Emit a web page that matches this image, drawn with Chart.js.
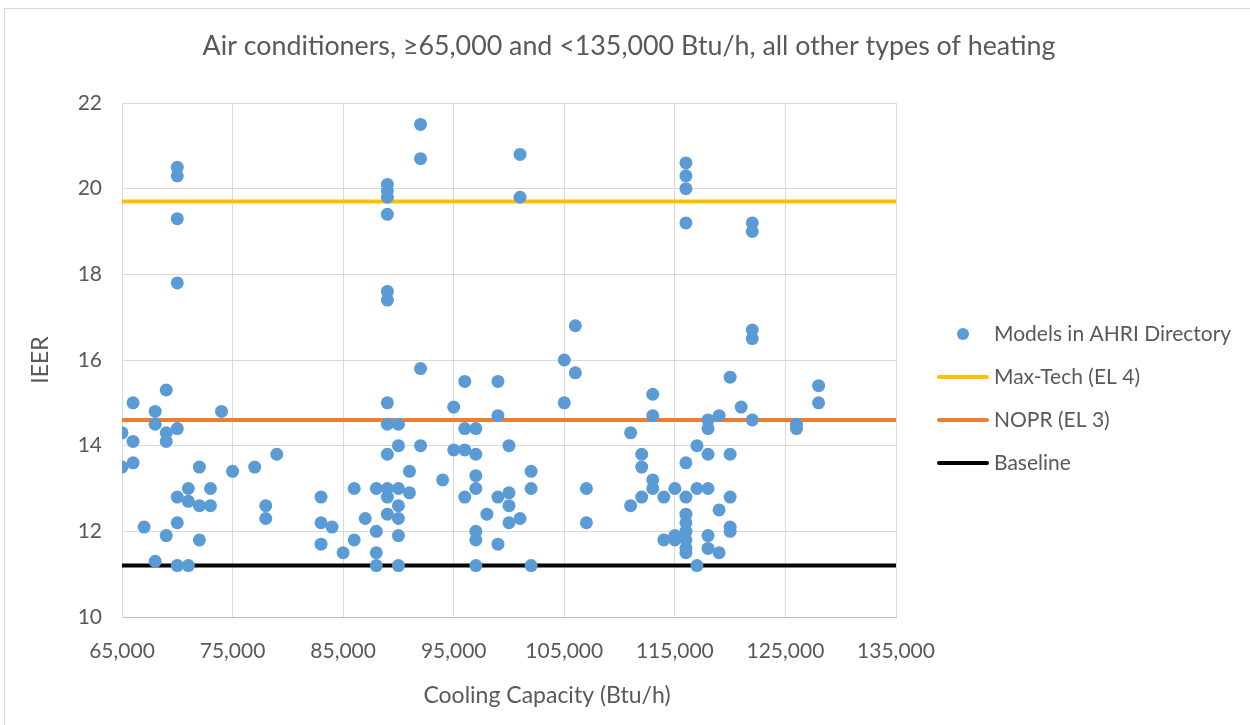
<!DOCTYPE html>
<html><head><meta charset="utf-8">
<script src="https://cdn.jsdelivr.net/npm/chart.js@4/dist/chart.umd.min.js"></script>
<style>html,body{margin:0;padding:0;background:#fff}#wrap{width:1250px;height:725px;position:relative}</style>
</head><body><div id="wrap"><canvas id="c" width="1250" height="725"></canvas></div>
<script>
// Models in AHRI Directory: cooling capacity (Btu/h) and IEER
const capacity = [
 65000,65000,
 66000,66000,66000,
 67000,
 68000,68000,68000,
 69000,69000,69000,69000,
 70000,70000,70000,70000,70000,70000,70000,70000,
 71000,71000,71000,
 72000,72000,72000,
 73000,73000,
 74000,75000,77000,
 78000,78000,
 79000,
 83000,83000,83000,
 84000,85000,
 86000,86000,
 87000,
 88000,88000,88000,88000,
 89000,89000,89000,89000,89000,89000,89000,89000,89000,89000,89000,89000,
 90000,90000,90000,90000,90000,90000,90000,
 91000,91000,
 92000,92000,92000,92000,
 94000,
 95000,95000,
 96000,96000,96000,96000,
 97000,97000,97000,97000,97000,97000,97000,
 98000,
 99000,99000,99000,99000,
 100000,100000,100000,100000,
 101000,101000,101000,
 102000,102000,102000,
 105000,105000,
 106000,106000,
 107000,107000,
 111000,111000,
 112000,112000,112000,
 113000,113000,113000,113000,
 114000,114000,
 115000,115000,115000,
 116000,116000,116000,116000,116000,116000,116000,116000,116000,116000,116000,116000,
 117000,117000,117000,
 118000,118000,118000,118000,118000,118000,
 119000,119000,119000,
 120000,120000,120000,120000,120000,
 121000,
 122000,122000,122000,122000,122000,
 126000,126000,
 128000,128000
];
const ieer = [
 14.3,13.5,
 15.0,14.1,13.6,
 12.1,
 14.8,14.5,11.3,
 15.3,14.3,14.1,11.9,
 20.5,20.3,19.3,17.8,14.4,12.8,12.2,11.2,
 13.0,12.7,11.2,
 13.5,12.6,11.8,
 13.0,12.6,
 14.8,13.4,13.5,
 12.6,12.3,
 13.8,
 12.8,12.2,11.7,
 12.1,11.5,
 13.0,11.8,
 12.3,
 13.0,12.0,11.5,11.2,
 20.1,19.95,19.8,19.4,17.6,17.4,15.0,14.5,13.8,13.0,12.8,12.4,
 14.5,14.0,13.0,12.6,12.3,11.9,11.2,
 13.4,12.9,
 21.5,20.7,15.8,14.0,
 13.2,
 14.9,13.9,
 15.5,14.4,13.9,12.8,
 14.4,13.8,13.3,13.0,12.0,11.8,11.2,
 12.4,
 15.5,14.7,12.8,11.7,
 14.0,12.9,12.6,12.2,
 20.8,19.8,12.3,
 13.4,13.0,11.2,
 16.0,15.0,
 16.8,15.7,
 13.0,12.2,
 14.3,12.6,
 13.8,13.5,12.8,
 15.2,14.7,13.2,13.0,
 12.8,11.8,
 13.0,11.9,11.8,
 20.6,20.3,20.0,19.2,13.6,12.8,12.4,12.2,12.0,11.8,11.6,11.5,
 14.0,13.0,11.2,
 14.6,14.4,13.8,13.0,11.9,11.6,
 14.7,12.5,11.5,
 15.6,13.8,12.8,12.1,12.0,
 14.9,
 19.2,19.0,16.7,16.5,14.6,
 14.5,14.4,
 15.4,15.0
];
// Efficiency levels (IEER), drawn across the capacity range
const lineRange = [65000, 135000];
const maxTech = 19.7;
const nopr = 14.6;
const baseline = 11.2;
// Axis ticks
const xTicks = [65000,75000,85000,95000,105000,115000,125000,135000];
const yTicks = [10,12,14,16,18,20,22];
const chartTitle = 'Air conditioners, \u226565,000 and <135,000 Btu/h, all other types of heating';
const xTitle = 'Cooling Capacity (Btu/h)';
const yTitle = 'IEER';

const FONT = 'Lato, "Open Sans", sans-serif';
const TXT = '#595959';

const points = capacity.map((x,i)=>({x:x, y:ieer[i]}));
const hline = v => lineRange.map(x=>({x:x, y:v}));

const textPlugin = {
  id:'texts',
  afterDraw(chart){
    const ctx = chart.ctx;
    const ds = chart.data.datasets;
    ctx.save();
    // chart title
    ctx.fillStyle = TXT;
    ctx.textAlign = 'center';
    ctx.textBaseline = 'middle';
    ctx.font = '26.8px ' + FONT;
    ctx.fillText(chartTitle, 629, 46);
    // x axis title
    ctx.font = '23px ' + FONT;
    ctx.fillText(xTitle, 547, 696);
    // legend
    const x0 = 937, x1 = 989, tx = 994;
    const ys = [334, 377, 420, 463];
    ctx.font = '21px ' + FONT;
    ds.forEach((d,i)=>{
      const y = ys[i];
      if (d.showLine === false) {
        ctx.beginPath();
        ctx.fillStyle = d.backgroundColor;
        ctx.arc((x0+x1)/2, y, 6, 0, Math.PI*2);
        ctx.fill();
      } else {
        ctx.beginPath();
        ctx.strokeStyle = d.borderColor;
        ctx.lineWidth = 4;
        ctx.lineCap = 'round';
        ctx.moveTo(x0+2, y); ctx.lineTo(x1-2, y);
        ctx.stroke();
      }
      ctx.fillStyle = TXT;
      ctx.textAlign = 'left';
      ctx.fillText(d.label, tx, y);
    });
    ctx.restore();
  }
};
const framePlugin = {
  id:'frame',
  beforeDraw(chart){
    const ctx = chart.ctx;
    ctx.save();
    ctx.fillStyle = '#fff';
    ctx.fillRect(0,0,chart.width,chart.height);
    ctx.strokeStyle = '#d9d9d9';
    ctx.lineWidth = 1;
    ctx.strokeRect(4.5, 8.5, chart.width, chart.height);
    ctx.restore();
  }
};

new Chart(document.getElementById('c'), {
  type:'scatter',
  data:{
    datasets:[
      {label:'Models in AHRI Directory', data:points, showLine:false,
       backgroundColor:'#5b9bd5', borderColor:'#5b9bd5', pointRadius:6.5, pointHoverRadius:6.5, borderWidth:0},
      {label:'Max-Tech (EL 4)', data:hline(maxTech), showLine:true, borderColor:'#ffc000', backgroundColor:'#ffc000', borderWidth:4, pointRadius:0},
      {label:'NOPR (EL 3)', data:hline(nopr), showLine:true, borderColor:'#ed7d31', backgroundColor:'#ed7d31', borderWidth:4, pointRadius:0},
      {label:'Baseline', data:hline(baseline), showLine:true, borderColor:'#000000', backgroundColor:'#000000', borderWidth:4, pointRadius:0}
    ]
  },
  options:{
    responsive:false, animation:false,
    layout:{padding:{left:10, right:354, top:103, bottom:10}},
    plugins:{ legend:{display:false}, tooltip:{enabled:false}, title:{display:false} },
    scales:{
      x:{type:'linear', min:lineRange[0], max:lineRange[1],
        afterBuildTicks(s){ s.ticks = xTicks.map(v=>({value:v})); },
        afterFit(s){ s.height = 98; },
        grid:{color:'#d9d9d9', lineWidth:1, drawTicks:false},
        border:{color:'#bfbfbf', width:1},
        ticks:{color:TXT, font:{family:FONT, size:21}, padding:22, maxRotation:0,
          callback:v=>v.toLocaleString('en-US')},
        title:{display:false}
      },
      y:{type:'linear', min:yTicks[0], max:yTicks[yTicks.length-1],
        afterBuildTicks(s){ s.ticks = yTicks.map(v=>({value:v})); },
        afterFit(s){ s.width = 112; },
        grid:{color:'#d9d9d9', lineWidth:1, drawTicks:false},
        border:{color:'#d9d9d9', width:1},
        ticks:{color:TXT, font:{family:FONT, size:21}, padding:20},
        title:{display:true, text:yTitle, color:TXT, font:{family:FONT, size:23, lineHeight:1.2}, padding:{top:17, bottom:0}}
      }
    }
  },
  plugins:[framePlugin, textPlugin]
});
</script>
</body></html>
